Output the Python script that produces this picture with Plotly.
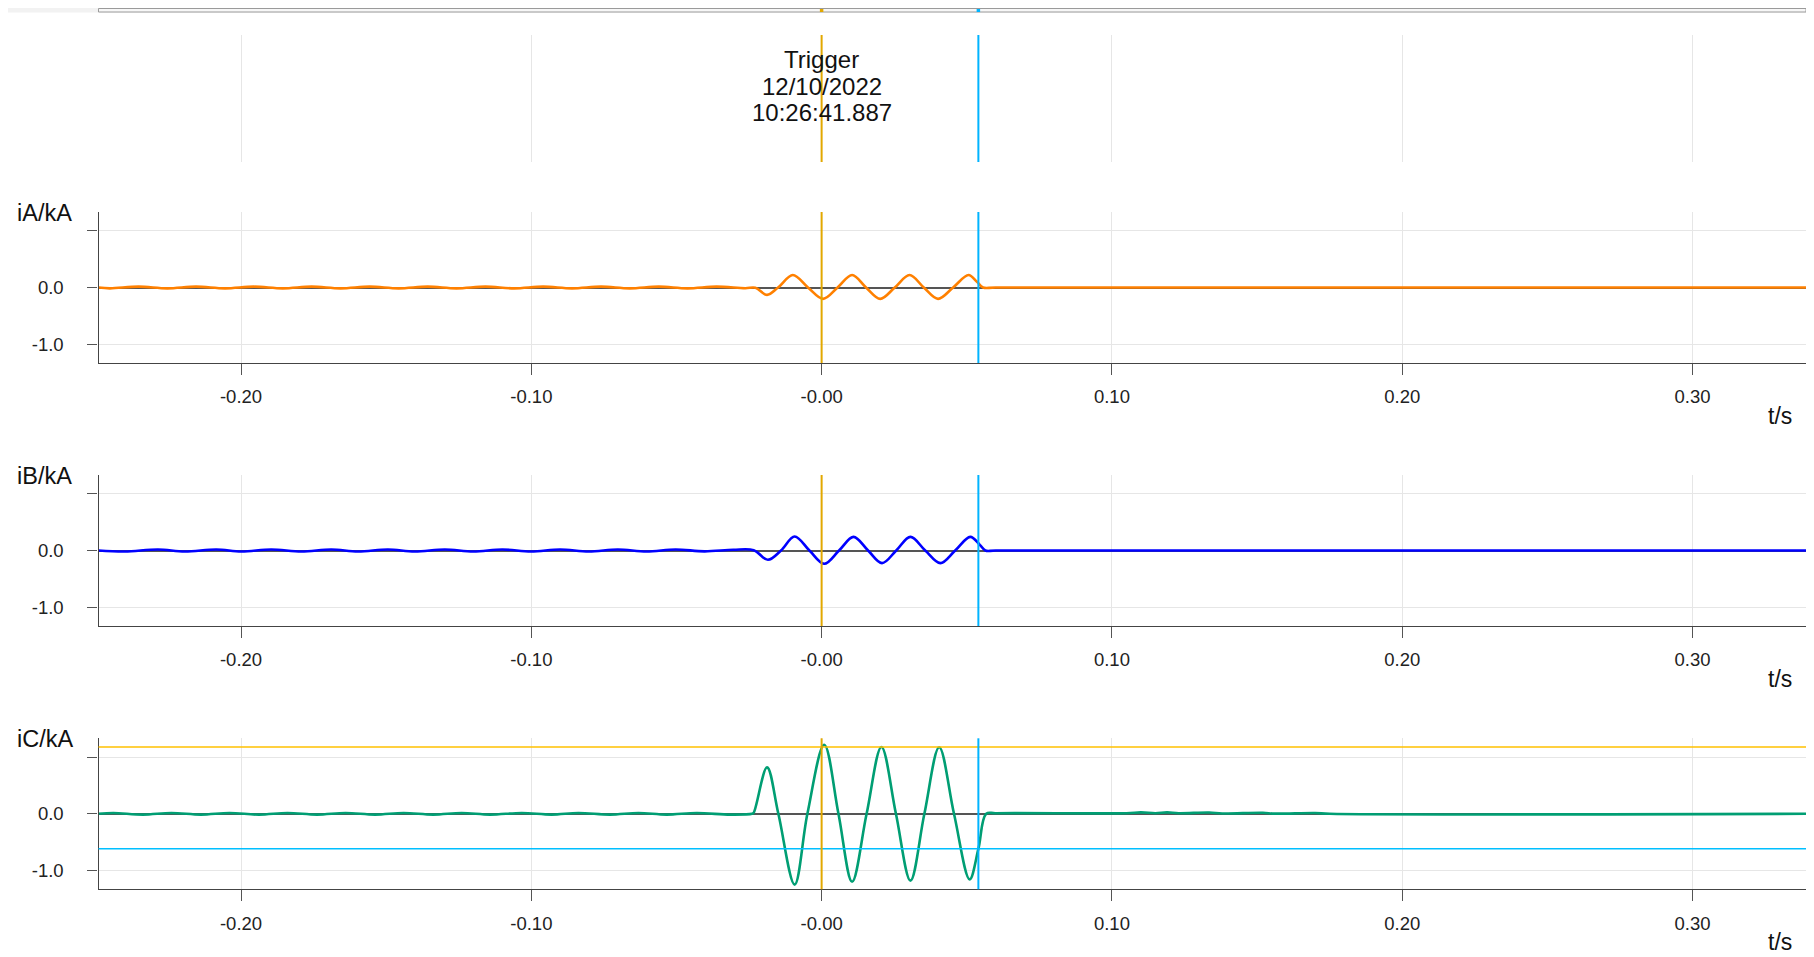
import plotly.graph_objects as go

# ---------------- data ----------------
X_RANGE = [-0.2491, 0.3391]
x_tick_vals = [-0.2, -0.1, 0.0, 0.1, 0.2, 0.3]
x_tick_text = ["-0.20", "-0.10", "-0.00", "0.10", "0.20", "0.30"]
y_tick_vals = [-1.0, 0.0, 1.0]
y_tick_text = ["-1.0", "0.0", ""]

cursor_t = [0.0, 0.054]            # trigger cursor, second cursor
cursor_iC = [1.18, -0.617]         # iC value at each cursor
trigger_lines = ["Trigger", "12/10/2022", "10:26:41.887"]

t_iA = [-0.2491, -0.2452, -0.2353, -0.2254, -0.2155, -0.2055, -0.1956, -0.1856,
        -0.1757, -0.1657, -0.1557, -0.1457, -0.1357, -0.1258, -0.1158, -0.1059,
        -0.0959, -0.0860, -0.0760, -0.0661, -0.0561, -0.0462, -0.0362, -0.0263,
        -0.0228, -0.0188, -0.0150, -0.0099, -0.0047, 0.0005, 0.0055, 0.0105,
        0.0153, 0.0202, 0.0252, 0.0303, 0.0352, 0.0401, 0.0453, 0.0506,
        0.0535, 0.0556, 0.0600, 0.3391]
v_iA = [0.0, -0.015, 0.015, -0.015, 0.015, -0.015, 0.015, -0.015,
        0.015, -0.015, 0.015, -0.015, 0.015, -0.015, 0.015, -0.015,
        0.015, -0.015, 0.015, -0.015, 0.015, -0.015, 0.015, -0.012,
        -0.005, -0.13, 0.0, 0.22, 0.0, -0.20, 0.0, 0.22,
        0.0, -0.20, 0.0, 0.22, 0.0, -0.20, 0.0, 0.22,
        0.10, 0.0, 0.0, 0.0]

t_iB = [-0.2491, -0.2400, -0.2286, -0.2194, -0.2085, -0.1999, -0.1896, -0.1792,
        -0.1689, -0.1597, -0.1494, -0.1402, -0.1298, -0.1200, -0.1100, -0.1001,
        -0.0901, -0.0802, -0.0702, -0.0603, -0.0503, -0.0404, -0.0304,
        -0.0234, -0.0185, -0.0140, -0.0093, -0.0042, 0.0009, 0.0060, 0.0110,
        0.0160, 0.0208, 0.0257, 0.0306, 0.0357, 0.0409, 0.0460, 0.0512,
        0.0545, 0.0564, 0.0600, 0.3391]
v_iB = [0.0, -0.018, 0.018, -0.018, 0.018, -0.018, 0.018, -0.018,
        0.018, -0.018, 0.018, -0.018, 0.018, -0.018, 0.018, -0.018,
        0.018, -0.018, 0.018, -0.018, 0.018, -0.015, 0.012,
        0.005, -0.164, 0.0, 0.247, 0.0, -0.235, 0.0, 0.24,
        0.0, -0.223, 0.0, 0.24, 0.0, -0.223, 0.0, 0.24,
        0.10, 0.0, 0.0, 0.0]

t_iC = [-0.2491, -0.2440, -0.2338, -0.2240, -0.2138, -0.2040, -0.1938, -0.1840,
        -0.1738, -0.1640, -0.1538, -0.1440, -0.1338, -0.1240, -0.1142, -0.1033,
        -0.0930, -0.0838, -0.0729, -0.0631, -0.0534, -0.0430, -0.0315,
        -0.0240, -0.0234, -0.0188, -0.0149, -0.0093, -0.0049, 0.0009, 0.0058, 0.0105,
        0.0155, 0.0206, 0.0256, 0.0306, 0.0354, 0.0405, 0.0456, 0.0510,
        0.0540, 0.0567, 0.0600, 0.1050, 0.1100, 0.1150, 0.1190, 0.1230,
        0.1335, 0.1380, 0.1520, 0.1560, 0.1700, 0.1750, 0.3391]
v_iC = [0.0, 0.015, -0.015, 0.015, -0.015, 0.015, -0.015, 0.015,
        -0.015, 0.015, -0.015, 0.015, -0.015, 0.015, -0.015, 0.015,
        -0.015, 0.015, -0.015, 0.015, -0.015, 0.015, -0.015,
        0.0, 0.02, 0.82, 0.0, -1.25, 0.0, 1.22, 0.0, -1.20,
        0.0, 1.18, 0.0, -1.18, 0.0, 1.175, 0.0, -1.157,
        -0.62, 0.0, 0.01, 0.01, 0.025, 0.01, 0.025, 0.01,
        0.022, 0.005, 0.018, 0.003, 0.014, 0.0, 0.0]

series = [("iA/kA", t_iA, v_iA, "#FF8000"),
          ("iB/kA", t_iB, v_iB, "#0000FF"),
          ("iC/kA", t_iC, v_iC, "#009E73")]

# ---------------- layout geometry ----------------
OFF = 8                      # page body margin
W, H = 1814 - OFF, 957 - OFF
FONT = "Arial, Liberation Sans, sans-serif"


def px(p):
    return (p - OFF) / W


def py(p):
    return 1 - (p - OFF) / H


x_dom = [px(98.5), px(1806)]
top_panel_px = (35, 162)
panels_px = [(212, 363), (475, 626), (738.3, 889.3)]
CUR_ORANGE = "#E2A800"
CUR_BLUE = "#00B4FF"

fig = go.Figure()
layout = dict(width=W, height=H, margin=dict(l=0, r=0, t=0, b=0),
              paper_bgcolor="white", plot_bgcolor="white",
              showlegend=False, font=dict(family=FONT, color="#222"))

# top (trigger) panel
layout["xaxis"] = dict(domain=x_dom, range=X_RANGE, anchor="y",
                       tickvals=x_tick_vals, showticklabels=False, ticks="",
                       showgrid=True, gridcolor="#E6E6E6", gridwidth=1,
                       zeroline=False, showline=False, fixedrange=True)
layout["yaxis"] = dict(domain=[py(top_panel_px[1]), py(top_panel_px[0])],
                       range=[0, 1], anchor="x", visible=False, fixedrange=True)

shapes = []
annotations = []

for i, (name, t, v, col) in enumerate(series):
    n = i + 2
    xa, ya = f"xaxis{n}", f"yaxis{n}"
    top, bot = panels_px[i]
    layout[xa] = dict(domain=x_dom, range=X_RANGE, anchor=f"y{n}",
                      tickvals=x_tick_vals, ticktext=x_tick_text,
                      ticks="outside", ticklen=11, tickwidth=1.3, tickcolor="#555",
                      ticklabelstandoff=6,
                      tickfont=dict(size=18.5, family=FONT, color="#222"),
                      showgrid=True, gridcolor="#E6E6E6", gridwidth=1,
                      zeroline=False, showline=True, linecolor="#444", linewidth=1.3,
                      fixedrange=True)
    layout[ya] = dict(domain=[py(bot), py(top)], range=[-1.333, 1.333],
                      anchor=f"x{n}",
                      tickvals=y_tick_vals, ticktext=y_tick_text,
                      ticks="outside", ticklen=10, tickwidth=1.3, tickcolor="#555",
                      ticklabelstandoff=20,
                      tickfont=dict(size=18.5, family=FONT, color="#222"),
                      showgrid=True, gridcolor="#E6E6E6", gridwidth=1,
                      zeroline=True, zerolinecolor="#555", zerolinewidth=1.5,
                      showline=True, linecolor="#444", linewidth=1.3,
                      fixedrange=True)
    fig.add_trace(go.Scatter(x=t, y=v, mode="lines", xaxis=f"x{n}", yaxis=f"y{n}",
                             line=dict(color=col, width=2.6, shape="spline",
                                       smoothing=1.0),
                             hoverinfo="skip"))
    annotations.append(dict(text=name, xref="paper", yref="paper",
                            x=px(15), y=py(top + 1), xanchor="left", yanchor="middle",
                            showarrow=False, font=dict(size=23.5, family=FONT, color="#111")))
    annotations.append(dict(text="t/s", xref="paper", yref="paper",
                            x=px(1780), y=py(bot + 53), xanchor="center", yanchor="middle",
                            showarrow=False, font=dict(size=23, family=FONT, color="#111")))

# horizontal cursor-value lines in iC panel
for val, col in zip(cursor_iC, ["#FFC000", "#00BFFF"]):
    shapes.append(dict(type="line", xref="x4 domain", yref="y4", x0=0, x1=1,
                       y0=val, y1=val, line=dict(color=col, width=1.5), layer="above"))

# vertical cursor lines in every panel
for n in ["", "2", "3", "4"]:
    for ct, col in zip(cursor_t, [CUR_ORANGE, CUR_BLUE]):
        shapes.append(dict(type="line", xref=f"x{n}", yref=f"y{n} domain",
                           x0=ct, x1=ct, y0=0, y1=1,
                           line=dict(color=col, width=2), layer="above"))

# top overview strip
shapes.append(dict(type="rect", xref="paper", yref="paper", x0=0, x1=1,
                   y0=py(12.5), y1=1, fillcolor="#F2F2F2", line=dict(width=0),
                   layer="below"))
shapes.append(dict(type="rect", xref="paper", yref="paper", x0=x_dom[0], x1=x_dom[1],
                   y0=py(12), y1=py(8.5), fillcolor="#F7F7F7",
                   line=dict(color="#9A9A9A", width=1), layer="above"))
for ct, col in zip(cursor_t, [CUR_ORANGE, CUR_BLUE]):
    shapes.append(dict(type="rect", xref="x", yref="paper", x0=ct - 0.0006, x1=ct + 0.0006,
                       y0=py(12), y1=py(9), fillcolor=col, line=dict(width=0),
                       layer="above"))

# trigger text
for txt, ypx in zip(trigger_lines, [59, 86, 113]):
    annotations.append(dict(text=txt, xref="x", yref="paper", x=cursor_t[0], y=py(ypx),
                            xanchor="center", yanchor="middle", showarrow=False,
                            font=dict(size=24, family=FONT, color="#111")))

layout["shapes"] = shapes
layout["annotations"] = annotations
fig.update_layout(**layout)

fig.write_html("out.html")
